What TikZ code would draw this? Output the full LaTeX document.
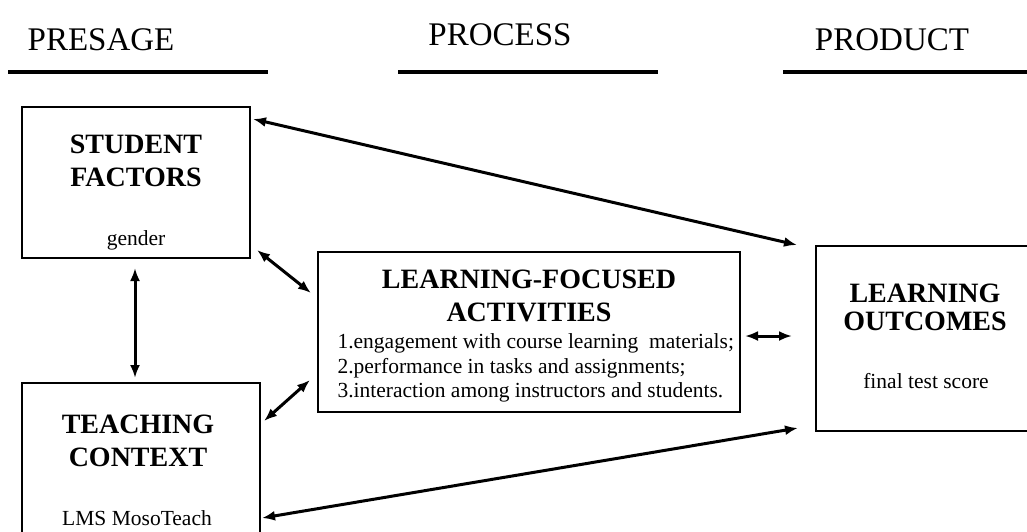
\documentclass[tikz,border=0pt]{standalone}
\usepackage{fontspec}
\setmainfont{Liberation Serif}
\usetikzlibrary{arrows.meta}
\begin{document}
\begin{tikzpicture}[x=1pt,y=-1pt,
  box/.style={draw,line width=2.2pt,inner sep=0pt,minimum width=#1},
  head/.style={font=\fontsize{33}{36}\selectfont,anchor=base},
  ttl/.style={font=\fontsize{28}{33}\selectfont\bfseries,anchor=base},
  txt/.style={font=\fontsize{21.5}{25}\selectfont,anchor=base},
  rule/.style={line width=3.2pt},
  link/.style={line width=3pt,{Latex[length=13pt,width=10pt]}-{Latex[length=13pt,width=10pt]}}]
\useasboundingbox (0,0) rectangle (1027,531);
% column headings
\node[head] (hpre) at (101,50) {PRESAGE};
\node[head] (hpro) at (500,45) {PROCESS};
\node[head] (hprd) at (892,50) {PRODUCT};
\draw[rule] (8,72) -- (268,72);
\draw[rule] (398,72) -- (658,72);
\draw[rule] (783,72) -- (1027,72);
% boxes
\node[box=228pt,minimum height=151pt] (sf) at (136,182.5) {};
\node[box=238pt,minimum height=162pt] (tc) at (141,464) {};
\node[box=422pt,minimum height=160pt] (lfa) at (529,332) {};
\node[box=219pt,minimum height=185pt] (lo) at (925.5,338.5) {};
% box contents
\node[ttl] (sf1) at (136,153) {STUDENT};
\node[ttl] (sf2) at (136,186) {FACTORS};
\node[txt] (sf3) at (136,245) {gender};
\node[ttl] (tc1) at (138,433) {TEACHING};
\node[ttl] (tc2) at (138,466) {CONTEXT};
\node[txt] (tc3) at (137,525) {LMS MosoTeach};
\node[ttl] (lf1) at (529,288) {LEARNING-FOCUSED};
\node[ttl] (lf2) at (529,321) {ACTIVITIES};
\node[txt,anchor=base west] (lf3) at (334,348) {1.engagement with course learning\ \ materials;};
\node[txt,anchor=base west] (lf4) at (334,373) {2.performance in tasks and assignments;};
\node[txt,anchor=base west] (lf5) at (334,397) {3.interaction among instructors and students.};
\node[ttl] (lo1) at (925,302) {LEARNING};
\node[ttl] (lo2) at (925,330) {OUTCOMES};
\node[txt] (lo3) at (926,388) {final test score};
% connector end points
\coordinate (sfA) at (253,119);
\coordinate (loA) at (797,245);
\coordinate (sfB) at (257,250);
\coordinate (lfaA) at (311,293);
\coordinate (sfC) at (135,268);
\coordinate (tcA) at (135,378);
\coordinate (tcB) at (264,421);
\coordinate (lfaB) at (310,380);
\coordinate (lfaC) at (745,336);
\coordinate (loB) at (792,336);
\coordinate (tcC) at (262,518);
\coordinate (loC) at (798,428);
% connectors
\draw[link] (sfA) -- (loA);
\draw[link] (sfB) -- (lfaA);
\draw[link] (sfC) -- (tcA);
\draw[link] (tcB) -- (lfaB);
\draw[link] (lfaC) -- (loB);
\draw[link] (tcC) -- (loC);
\end{tikzpicture}
\end{document}
